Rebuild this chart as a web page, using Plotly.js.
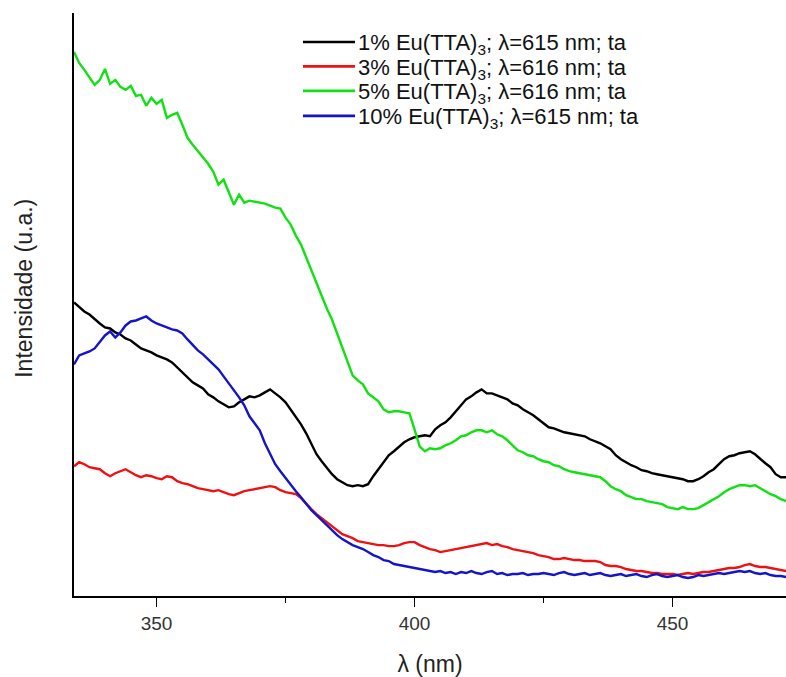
<!DOCTYPE html>
<html>
<head>
<meta charset="utf-8">
<script src="https://cdn.plot.ly/plotly-3.0.1.min.js"></script>
<style>html,body{margin:0;padding:0;background:#fff;}#chart{width:786px;height:677px;}</style>
</head>
<body>
<div id="chart"></div>
<script>
// Excitation scan wavelength (nm), 1 nm step from 334 to 472 nm
const wavelengthStart = 334;
const wavelengthCount = 139;
const wavelengths = Array.from({length: wavelengthCount}, (_, i) => wavelengthStart + i);

const seriesNames = [
  "1% Eu(TTA)<sub>3</sub>; λ=615 nm; ta",
  "3% Eu(TTA)<sub>3</sub>; λ=616 nm; ta",
  "5% Eu(TTA)<sub>3</sub>; λ=616 nm; ta",
  "10% Eu(TTA)<sub>3</sub>; λ=615 nm; ta"
];

// Intensities (a.u.)
const eu1 = [294,289,285,282,277,273,269,268,264,262,
258,256,252,248,246,244,241,239,237,234,
229,223,219,214,211,208,202,199,195,192,
189,190,194,197,200,199,201,204,207,203,
199,194,187,179,172,163,152,142,135,128,
122,117,114,111,110,111,110,112,120,127,
134,141,145,150,154,157,159,160,161,160,
167,171,174,179,185,192,197,200,204,207,
203,203,201,199,197,193,191,187,184,181,
177,173,169,168,166,164,163,162,161,160,
157,155,153,150,147,141,137,134,131,129,
126,125,123,122,121,120,119,118,117,115,
115,117,120,124,127,132,137,140,141,143,
144,145,142,137,133,129,122,119,119];

const eu3 = [130,134,132,129,128,127,123,120,123,125,
127,124,121,119,121,120,118,117,120,119,
115,113,112,110,108,107,106,105,106,104,
102,101,103,105,106,107,108,109,110,109,
106,104,103,102,98,92,87,82,78,74,
70,66,62,60,58,55,54,53,52,51,
51,50,50,51,53,54,54,51,49,47,
46,44,45,46,47,48,49,50,51,52,
53,51,52,50,49,47,46,45,44,43,
41,40,39,37,37,38,37,36,36,35,
35,35,34,31,30,30,29,27,26,25,
25,24,23,23,22,22,22,21,22,23,
22,23,24,24,25,26,27,28,28,29,
31,32,30,29,29,28,27,26,25];

const eu5 = [545,534,527,520,512,517,528,513,517,510,
507,511,501,502,491,499,493,497,479,482,
484,472,459,452,446,439,433,425,412,417,
405,392,402,394,396,395,394,393,391,389,
388,379,372,361,352,339,327,313,301,288,
277,263,251,236,221,216,212,203,199,195,
187,184,185,185,184,183,167,150,145,148,
147,148,151,153,156,160,161,164,166,166,
164,166,162,160,156,151,146,144,141,140,
137,135,134,131,130,127,125,124,123,122,
121,120,119,115,110,107,105,101,99,97,
97,95,94,93,92,89,88,87,89,87,
87,88,91,94,97,100,104,107,109,111,
111,110,111,108,105,102,100,97,95];

const eu10 = [232,241,243,245,248,254,261,265,259,264,
271,275,276,278,280,276,273,271,269,267,
266,263,257,251,246,242,237,232,227,220,
213,207,199,191,180,173,166,153,142,132,
125,118,111,105,99,92,86,81,76,70,
66,61,57,54,51,49,47,44,41,39,
36,35,32,31,30,29,28,27,26,25,
24,25,23,24,22,24,23,25,23,22,
24,25,22,23,21,22,22,23,21,22,
22,23,22,21,23,24,22,21,22,23,
21,22,23,21,20,21,22,20,21,22,
20,19,21,22,20,19,20,21,19,18,
19,21,20,21,22,23,22,23,24,25,
24,25,23,22,23,21,20,20,19];

const seriesValues = [eu1, eu3, eu5, eu10];
const seriesColors = ["#000000", "#ee1111", "#11e011", "#1414c8"];

const xTickVals = [350, 400, 450];
const xTickText = ["350", "400", "450"];

const traces = seriesValues.map((vals, k) => ({
  type: "scatter",
  mode: "lines",
  x: wavelengths,
  y: vals,
  name: seriesNames[k],
  line: {color: seriesColors[k], width: 2.4}
}));

// Legend drawn as paper-positioned line samples + labels (tight row spacing like the original)
const legendRowsY = [0.9503, 0.9084, 0.8664, 0.8236];
const legendLineX0 = 0.3216, legendLineX1 = 0.3947, legendTextX = 0.3975;

const shapes = seriesNames.map((n, k) => ({
  type: "line", xref: "paper", yref: "paper",
  x0: legendLineX0, x1: legendLineX1, y0: legendRowsY[k], y1: legendRowsY[k],
  line: {color: seriesColors[k], width: 2.6}
}));

const annotations = seriesNames.map((n, k) => ({
  xref: "paper", yref: "paper", x: legendTextX, y: legendRowsY[k] - 0.004,
  xanchor: "left", yanchor: "middle", showarrow: false, align: "left",
  borderpad: 0,
  text: n, font: {size: 22, color: "#111"}
}));

annotations.push({
  xref: "paper", yref: "paper", x: -0.0702, y: 0.527,
  xanchor: "center", yanchor: "middle", showarrow: false, textangle: -90,
  text: "Intensidade (u.a.)", font: {size: 23, color: "#222"}
});

const layout = {
  width: 786,
  height: 677,
  margin: {l: 74, r: 0, t: 13, b: 81},
  paper_bgcolor: "#ffffff",
  plot_bgcolor: "#ffffff",
  font: {family: "Liberation Sans, Arial, sans-serif", color: "#222"},
  showlegend: false,
  shapes: shapes,
  annotations: annotations,
  xaxis: {
    range: [334, 472],
    showline: true, linecolor: "#000", linewidth: 2,
    showgrid: false, zeroline: false,
    ticks: "outside", ticklen: 9, tickwidth: 1.5, tickcolor: "#000",
    tickvals: xTickVals, ticktext: xTickText,
    tickfont: {size: 19, color: "#333"},
    minor: {dtick: 25, tick0: 0, ticks: "outside", ticklen: 5, tickwidth: 1.5, tickcolor: "#000", showgrid: false},
    title: {text: "λ (nm)", font: {size: 23, color: "#222"}, standoff: 30}
  },
  yaxis: {
    range: [0, 584],
    showline: true, linecolor: "#000", linewidth: 2,
    showgrid: false, zeroline: false,
    ticks: "", showticklabels: false
  }
};

Plotly.newPlot("chart", traces, layout, {displayModeBar: false, staticPlot: true});
</script>
</body>
</html>
